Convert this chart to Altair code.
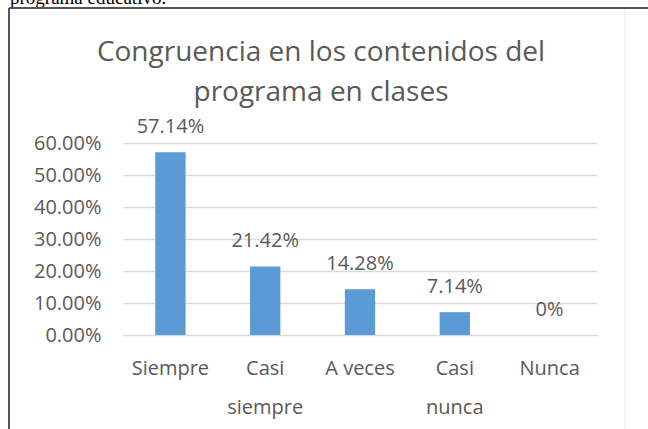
import altair as alt
import pandas as pd

categories = ["Siempre", "Casi siempre", "A veces", "Casi nunca", "Nunca"]
values = [0.5714, 0.2142, 0.1428, 0.0714, 0.0]
value_labels = ["57.14%", "21.42%", "14.28%", "7.14%", "0%"]
y_ticks = [0.0, 0.1, 0.2, 0.3, 0.4, 0.5, 0.6]

title_lines = ["Congruencia en los contenidos del", "programa en clases"]
doc_text = "programa educativo."

FONT = "Open Sans"
GRAY = "#595959"

df = pd.DataFrame({"cat": categories, "val": values, "lab": value_labels})

base = alt.Chart(df)

x_enc = alt.X(
    "cat:N",
    sort=categories,
    scale=alt.Scale(paddingInner=0, paddingOuter=0),
    axis=alt.Axis(
        title=None,
        labelAngle=0,
        labelFont=FONT,
        labelFontSize=20,
        labelColor=GRAY,
        labelPadding=33,
        labelBaseline="middle",
        labelLineHeight=39,
        labelOverlap=False,
        labelExpr="indexof(datum.label, 'Casi') == 0 ? split(datum.label, ' ') : datum.label",
        ticks=False,
        domainColor="#D9D9D9",
        grid=False,
    ),
)
y_enc = alt.Y(
    "val:Q",
    scale=alt.Scale(domain=[0, 0.6], nice=False),
    axis=alt.Axis(
        title=None,
        format=".2%",
        values=y_ticks,
        labelFont=FONT,
        labelFontSize=20,
        labelColor=GRAY,
        labelPadding=22,
        labelOverlap=False,
        ticks=False,
        domain=False,
        gridColor="#D9D9D9",
        gridWidth=1.5,
    ),
)

bars = base.mark_bar(color="#5B9BD5", width=alt.RelativeBandSize(0.32)).encode(x=x_enc, y=y_enc)
labels = base.mark_text(font=FONT, fontSize=20, color=GRAY, dy=-25, baseline="middle").encode(
    x=x_enc, y=y_enc, text="lab:N"
)

one = pd.DataFrame({"k": [0]})
title1 = alt.Chart(one).mark_text(font=FONT, fontSize=28, color=GRAY, baseline="middle", align="center").encode(
    x=alt.value(198), y=alt.value(-90), text=alt.value(title_lines[0])
)
title2 = alt.Chart(one).mark_text(font=FONT, fontSize=28, color=GRAY, baseline="middle", align="center").encode(
    x=alt.value(198), y=alt.value(-50), text=alt.value(title_lines[1])
)
doc = alt.Chart(one).mark_text(font="Liberation Serif", fontSize=19, color="#000000", baseline="alphabetic", align="left").encode(
    x=alt.value(-113), y=alt.value(-139), text=alt.value(doc_text)
)
top_line = alt.Chart(one).mark_rule(color="#555555", strokeWidth=2).encode(
    x=alt.value(-114), x2=alt.value(525), y=alt.value(-135)
)
left_line = alt.Chart(one).mark_rule(color="#555555", strokeWidth=2).encode(
    x=alt.value(-114), y=alt.value(-135), y2=alt.value(286)
)
right_line = alt.Chart(one).mark_rule(color="#EBEBEB", strokeWidth=1).encode(
    x=alt.value(502), y=alt.value(-134), y2=alt.value(286)
)

chart = alt.layer(bars, labels, title1, title2, doc, top_line, left_line, right_line).properties(
    width=474,
    height=192,
    padding={"left": 123, "top": 143, "right": 51, "bottom": 94},
    autosize=alt.AutoSizeParams(type="none"),
    background="white",
).configure_view(stroke=None)

chart.save("out.html", embed_options={"renderer": "svg", "actions": False})
